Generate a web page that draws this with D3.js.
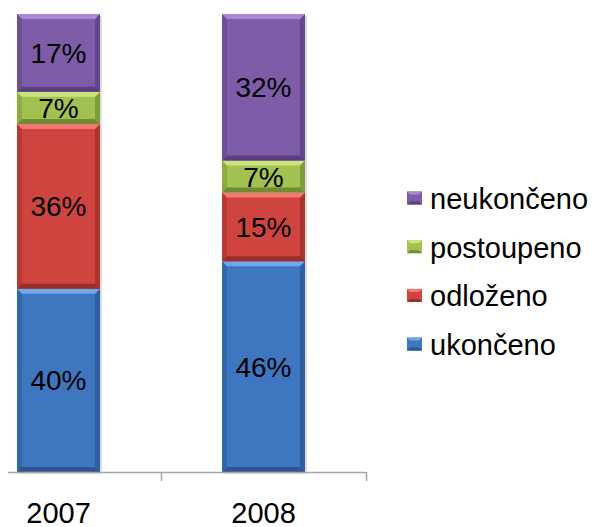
<!DOCTYPE html>
<html>
<head>
<meta charset="utf-8">
<script src="https://cdn.jsdelivr.net/npm/d3@7"></script>
<style>
  body { margin: 0; background: #fff; }
  text { font-family: "Liberation Sans", Arial, sans-serif; }
</style>
</head>
<body>
<div id="chart"></div>
<script>
// Data
const years = ["2007", "2008"];
const seriesNames = ["ukončeno", "odloženo", "postoupeno", "neukončeno"];
const ukonceno = [40, 46];
const odlozeno = [36, 15];
const postoupeno = [7, 7];
const neukonceno = [17, 32];

const seriesValues = [ukonceno, odlozeno, postoupeno, neukonceno];

// base / light (top bevel) / dark (bottom bevel) per series
const colours = [
  { base: "#3e76c0", light: "#6da7ec", dark: "#2b5692", side: "#3566a8" },
  { base: "#d04440", light: "#f37773", dark: "#982d2a", side: "#b83a37" },
  { base: "#a2c150", light: "#cbe47c", dark: "#718b34", side: "#8eab44" },
  { base: "#7e5ca7", light: "#a888d3", dark: "#593f80", side: "#6d4f93" }
];

const width = 595, height = 527;
const axisY = 472, topY = 14;

const svg = d3.select("#chart").append("svg")
  .attr("width", width)
  .attr("height", height);

const xScale = d3.scaleBand()
  .domain(years)
  .range([-44, 366])
  .paddingInner(0.595)
  .paddingOuter(0.2975);

const yScale = d3.scaleLinear()
  .domain([0, 100])
  .range([axisY, topY]);

// Build stacked table
const table = years.map((y, i) => {
  const row = { year: y };
  seriesNames.forEach((s, j) => { row[s] = seriesValues[j][i]; });
  return row;
});
const stacked = d3.stack().keys(seriesNames)(table);

const bw = xScale.bandwidth();
const bevel = 5;

// Shadows behind bars
svg.append("g").selectAll("rect")
  .data(years)
  .join("rect")
  .attr("x", d => xScale(d) + 2)
  .attr("y", yScale(100) + 2)
  .attr("width", bw)
  .attr("height", yScale(0) - yScale(100))
  .attr("fill", "#c8c8c8")
  .attr("opacity", 0.6);

// Segments with bevel look
stacked.forEach((layer, si) => {
  const c = colours[si];
  const g = svg.append("g").attr("class", "series");
  layer.forEach((d, i) => {
    const x0 = xScale(years[i]);
    const x1 = x0 + bw;
    const y0 = yScale(d[1]);
    const y1 = yScale(d[0]);
    const b = Math.min(bevel, (y1 - y0) / 3);
    g.append("rect")
      .attr("x", x0).attr("y", y0)
      .attr("width", bw).attr("height", y1 - y0)
      .attr("fill", c.base);
    // left / right sides
    g.append("polygon")
      .attr("points", [[x0, y0], [x0 + b, y0 + b], [x0 + b, y1 - b], [x0, y1]].join(" "))
      .attr("fill", c.side);
    g.append("polygon")
      .attr("points", [[x1, y0], [x1 - b, y0 + b], [x1 - b, y1 - b], [x1, y1]].join(" "))
      .attr("fill", c.dark).attr("opacity", 0.7);
    // top / bottom
    g.append("polygon")
      .attr("points", [[x0, y0], [x1, y0], [x1 - b, y0 + b], [x0 + b, y0 + b]].join(" "))
      .attr("fill", c.light);
    g.append("polygon")
      .attr("points", [[x0, y1], [x1, y1], [x1 - b, y1 - b], [x0 + b, y1 - b]].join(" "))
      .attr("fill", c.dark);
  });

  // data labels
  g.selectAll("text")
    .data(layer)
    .join("text")
    .attr("x", (d, i) => xScale(years[i]) + bw / 2)
    .attr("y", d => (yScale(d[0]) + yScale(d[1])) / 2)
    .attr("dy", "0.36em")
    .attr("text-anchor", "middle")
    .style("font-size", "28px")
    .attr("fill", "#000")
    .text(d => (d[1] - d[0]) + "%");
});

// x axis
const stepHalfGap = xScale.step() * xScale.paddingInner() / 2;
const boundaries = years.map(y => xScale(y) + bw + stepHalfGap);
svg.append("line")
  .attr("x1", 8).attr("x2", boundaries[boundaries.length - 1])
  .attr("y1", axisY + 0.5).attr("y2", axisY + 0.5)
  .attr("stroke", "#a6a6a6")
  .attr("stroke-width", 1.5);
svg.append("g").selectAll("line")
  .data(boundaries)
  .join("line")
  .attr("x1", d => Math.round(d) + 0.5).attr("x2", d => Math.round(d) + 0.5)
  .attr("y1", axisY).attr("y2", axisY + 9)
  .attr("stroke", "#a6a6a6")
  .attr("stroke-width", 1.5);

const xAxis = d3.axisBottom(xScale).tickSize(0).tickPadding(0);
const xAxisGroup = svg.append("g")
  .attr("transform", `translate(0,${axisY})`)
  .call(xAxis);
xAxisGroup.select(".domain").remove();
xAxisGroup.selectAll("text")
  .attr("y", 0)
  .attr("dy", "1.76em")
  .style("font-size", "29px")
  .style("font-family", "'Liberation Sans', Arial, sans-serif")
  .attr("fill", "#000");

// legend
const legendOrder = seriesNames.map((s, i) => ({ name: s, c: colours[i] })).reverse();
const legend = svg.append("g").attr("transform", "translate(407,198)");
const rows = legend.selectAll("g")
  .data(legendOrder)
  .join("g")
  .attr("transform", (d, i) => `translate(0,${i * 48.7})`);
rows.append("rect")
  .attr("x", 0).attr("y", -6.5)
  .attr("width", 15).attr("height", 13)
  .attr("fill", d => d.c.base);
rows.append("polygon")
  .attr("points", "0,-6.5 15,-6.5 12,-3.5 3,-3.5")
  .attr("fill", d => d.c.light);
rows.append("polygon")
  .attr("points", "0,6.5 15,6.5 12,3.5 3,3.5")
  .attr("fill", d => d.c.dark);
rows.append("text")
  .attr("x", 23)
  .attr("y", 11)
  .style("font-size", "29px")
  .attr("fill", "#000")
  .text(d => d.name);
</script>
</body>
</html>
